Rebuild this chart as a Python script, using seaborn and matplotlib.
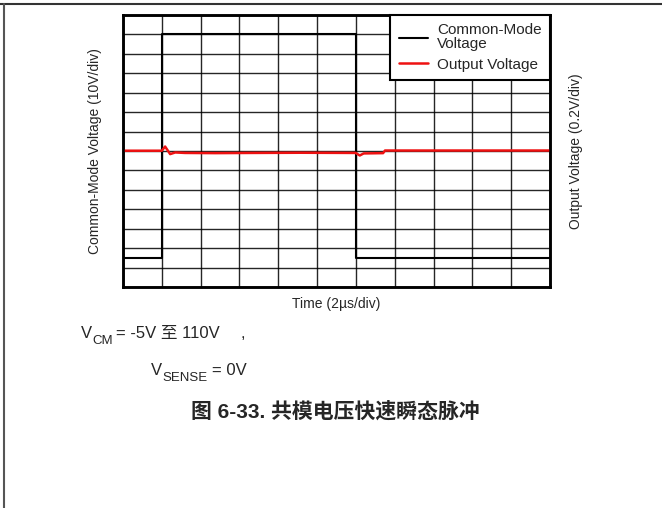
import numpy as np
import pandas as pd
import matplotlib
matplotlib.use('Agg')
import matplotlib.pyplot as plt
from matplotlib.lines import Line2D
import seaborn as sns

# Common-mode pulse (left axis, V) vs time (us)
cm_time = [0, 2.0, 2.0, 12.0, 12.0, 22]
cm_volt = [-5, -5, 110, 110, -5, -5]

# Output voltage (right axis, V) vs time (us)
out_time = [0, 2.0, 2.17, 2.43, 2.69, 3.2, 4.75, 6.56, 9.15, 11.99, 12.2, 12.4, 13.4, 13.5, 22]
out_volt = [0.003, 0.003, 0.046, -0.032, -0.015, -0.02, -0.022, -0.02, -0.018, -0.02, -0.046, -0.025, -0.022, 0.005, 0.005]

time_ticks = np.arange(0, 23, 2)      # 2us/div
cm_ticks = np.arange(-20, 121, 10)    # 10V/div

sns.set_style('white')
plt.rcParams['font.family'] = ['Liberation Sans', 'Noto Sans CJK SC']

W, H = 662, 508
fig = plt.figure(figsize=(W / 100, H / 100), dpi=100)
ax = fig.add_axes([123 / W, 1 - 287 / H, 427 / W, 272 / H])

cm_df = pd.DataFrame({'t': cm_time, 'v': cm_volt})
out_df = pd.DataFrame({'t': out_time, 'v': out_volt})

sns.lineplot(data=cm_df, x='t', y='v', estimator=None, sort=False, color='black',
             linewidth=1.5, ax=ax, legend=False)
ax.set_xlim(0, 22)
ax.set_ylim(-20, 120)
ax.set_xticks(time_ticks)
ax.set_yticks(cm_ticks)
ax.tick_params(length=0, labelbottom=False, labelleft=False)
ax.grid(True, color='black', linewidth=1.0, alpha=0.85)
ax.set_axisbelow(True)
ax.set_xlabel('Time (2µs/div)', fontsize=10, labelpad=7)
ax.set_ylabel('Common-Mode Voltage (10V/div)', fontsize=10, labelpad=15)

ax2 = ax.twinx()
sns.lineplot(data=out_df, x='t', y='v', estimator=None, sort=False, color='#ee1111',
             linewidth=1.8, ax=ax2, legend=False)
ax2.set_ylim(-1.4, 1.4)
ax2.set_yticks([])
ax2.tick_params(length=0)
ax2.set_ylabel('Output Voltage (0.2V/div)', fontsize=10, labelpad=14, rotation=90)

for a in (ax, ax2):
    for s in a.spines.values():
        s.set_color('black')
        s.set_linewidth(1.8)

handles = ax.get_lines()[:1] + ax2.get_lines()[:1]
leg = ax2.legend(handles=handles, labels=['Common-Mode\nVoltage', 'Output Voltage'],
                 loc='upper right', borderaxespad=0, fancybox=False, framealpha=1,
                 edgecolor='black', fontsize=11, handlelength=1.9, labelspacing=0.4,
                 borderpad=0.55, handletextpad=0.6)
leg.get_frame().set_linewidth(1.5)
for t in leg.get_texts():
    t.set_linespacing(1.0)

# page frame lines
fig.add_artist(Line2D([0, 1], [1 - 3.5 / H, 1 - 3.5 / H], transform=fig.transFigure,
                      color='#333333', linewidth=1.5))
fig.add_artist(Line2D([3.5 / W, 3.5 / W], [0, 1 - 3.5 / H], transform=fig.transFigure,
                      color='#555555', linewidth=1.5))


def ftext(x, y, s, **kw):
    fig.text(x / W, 1 - y / H, s, va='baseline', ha='left', **kw)


ftext(81, 338, 'V', fontsize=12)
ftext(92, 344, 'CM', fontsize=9.5)
ftext(116, 338, '= -5V 至 110V', fontsize=12)
ftext(241, 338, ',', fontsize=12)
ftext(151, 375, 'V', fontsize=12)
ftext(162, 381, 'SENSE', fontsize=9.5)
ftext(212, 375, '= 0V', fontsize=12)
ftext(191, 418, '图 6-33. 共模电压快速瞬态脉冲', fontsize=15, fontweight='bold')

fig.savefig('out.png', dpi=100)
